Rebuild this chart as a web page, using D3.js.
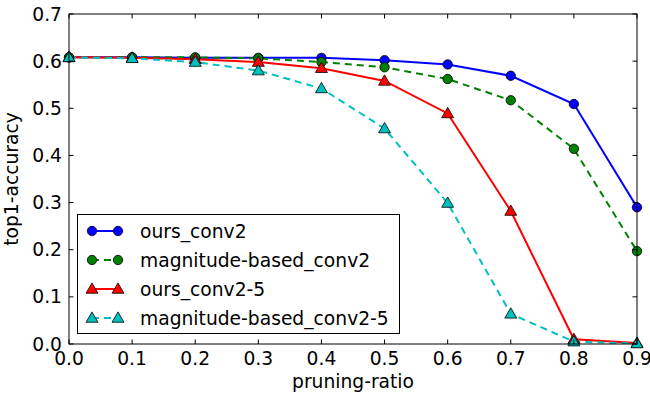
<!DOCTYPE html>
<html><head><meta charset="utf-8">
<script src="https://cdn.jsdelivr.net/npm/d3@7"></script>
<style>body{margin:0;background:#fff}svg{display:block}text{font-family:"DejaVu Sans",sans-serif}</style>
</head><body><svg id="c" width="650" height="402"></svg>
<script>
const ratios = [0.0,0.1,0.2,0.3,0.4,0.5,0.6,0.7,0.8,0.9];
const oursConv2 = [0.608,0.608,0.607,0.607,0.607,0.602,0.593,0.569,0.509,0.290];
const magConv2 = [0.608,0.608,0.608,0.606,0.598,0.587,0.562,0.517,0.414,0.197];
const oursConv25 = [0.608,0.607,0.604,0.598,0.585,0.558,0.489,0.282,0.010,0.002];
const magConv25 = [0.608,0.606,0.598,0.580,0.542,0.457,0.299,0.064,0.005,0.001];
const seriesNames = ["ours_conv2","magnitude-based_conv2","ours_conv2-5","magnitude-based_conv2-5"];
const xTicks = [0.0,0.1,0.2,0.3,0.4,0.5,0.6,0.7,0.8,0.9];
const yTicks = [0.0,0.1,0.2,0.3,0.4,0.5,0.6,0.7];

const series = [
  {name:seriesNames[0], vals:oursConv2, color:"#0000ff", dash:null, marker:"circle"},
  {name:seriesNames[1], vals:magConv2, color:"#008000", dash:"7,5", marker:"circle"},
  {name:seriesNames[2], vals:oursConv25, color:"#ff0000", dash:null, marker:"triangle"},
  {name:seriesNames[3], vals:magConv25, color:"#00bfbf", dash:"7,5", marker:"triangle"}
];

const svg = d3.select("#c");
const L=69, R=637, T=14, B=344;
const x = d3.scaleLinear().domain([0,0.9]).range([L,R]);
const y = d3.scaleLinear().domain([0,0.7]).range([B,T]);
const fs = "18.7px";

svg.append("defs").append("clipPath").attr("id","pc").append("rect")
  .attr("x",L).attr("y",T).attr("width",R-L).attr("height",B-T);

const plot = svg.append("g").attr("clip-path","url(#pc)");
const line = d3.line().x((d,i)=>x(ratios[i])).y(d=>y(d));
const tri = d3.symbol().type(d3.symbolTriangle).size(62);

function drawMarker(g, type, cx, cy, color){
  if(type==="circle"){
    g.append("circle").attr("cx",cx).attr("cy",cy).attr("r",4.7)
      .attr("fill",color).attr("stroke","#000").attr("stroke-width",0.8);
  } else {
    g.append("path").attr("d",tri).attr("transform",`translate(${cx},${cy+0.8})`)
      .attr("fill",color).attr("stroke","#000").attr("stroke-width",0.8);
  }
}

series.forEach(s=>{
  plot.append("path").datum(s.vals).attr("d",line).attr("fill","none")
    .attr("stroke",s.color).attr("stroke-width",2).attr("stroke-dasharray",s.dash);
});
series.forEach(s=>{
  s.vals.forEach((v,i)=>drawMarker(svg, s.marker, x(ratios[i]), y(v), s.color));
});

svg.append("rect").attr("x",L).attr("y",T).attr("width",R-L).attr("height",B-T)
  .attr("fill","none").attr("stroke","#000").attr("stroke-width",1);

const tl = 4.5;
xTicks.forEach(t=>{
  const px = x(t);
  svg.append("line").attr("x1",px).attr("x2",px).attr("y1",B).attr("y2",B-tl).attr("stroke","#000");
  svg.append("line").attr("x1",px).attr("x2",px).attr("y1",T).attr("y2",T+tl).attr("stroke","#000");
  svg.append("text").attr("x",px).attr("y",365).attr("text-anchor","middle")
    .style("font-size",fs).text(t.toFixed(1));
});
yTicks.forEach(t=>{
  const py = y(t);
  svg.append("line").attr("x1",L).attr("x2",L+tl).attr("y1",py).attr("y2",py).attr("stroke","#000");
  svg.append("line").attr("x1",R).attr("x2",R-tl).attr("y1",py).attr("y2",py).attr("stroke","#000");
  svg.append("text").attr("x",62).attr("y",py+6.5).attr("text-anchor","end")
    .style("font-size",fs).text(t.toFixed(1));
});

svg.append("text").attr("x",353).attr("y",388).attr("text-anchor","middle")
  .style("font-size",fs).text("pruning-ratio");
svg.append("text").attr("transform",`translate(18,${(T+B)/2}) rotate(-90)`).attr("text-anchor","middle")
  .style("font-size",fs).text("top1-accuracy");

const lg = svg.append("g");
lg.append("rect").attr("x",77.5).attr("y",214.5).attr("width",322).attr("height",119)
  .attr("fill","#fff").attr("stroke","#000").attr("stroke-width",1);
series.forEach((s,i)=>{
  const cy = 231 + i*29;
  lg.append("line").attr("x1",92).attr("x2",118).attr("y1",cy).attr("y2",cy)
    .attr("stroke",s.color).attr("stroke-width",2).attr("stroke-dasharray",s.dash);
  drawMarker(lg, s.marker, 92, cy, s.color);
  drawMarker(lg, s.marker, 118, cy, s.color);
  lg.append("text").attr("x",140).attr("y",cy+6.5).style("font-size",fs).text(s.name);
});
</script></body></html>
